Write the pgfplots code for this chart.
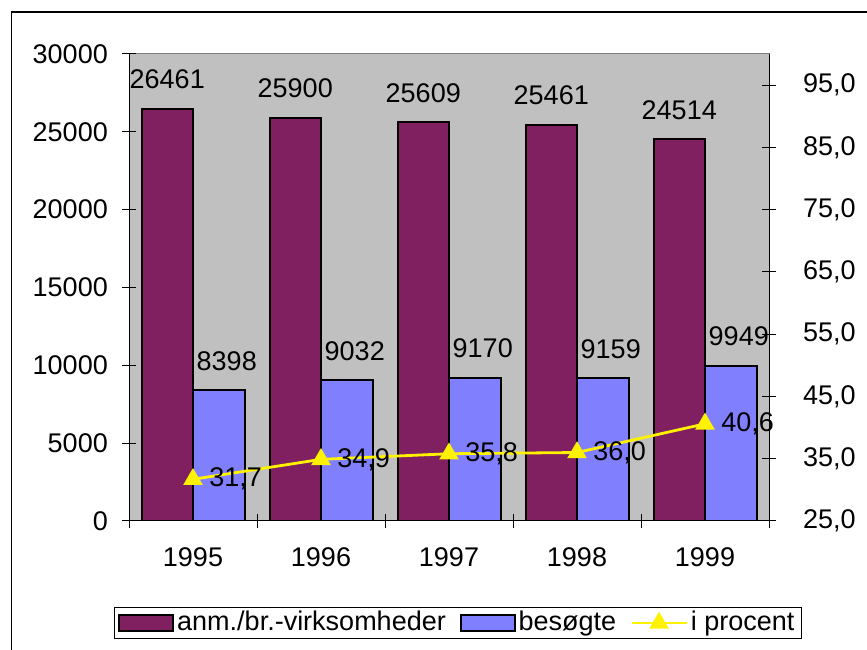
\documentclass[border=0pt]{standalone}
\usepackage{pgfplots}
\pgfplotsset{compat=1.18}
\usepackage{fontspec}
\setmainfont{Liberation Sans}
\definecolor{maroon}{RGB}{128,32,96}
\definecolor{periw}{RGB}{128,128,255}
\definecolor{plotgray}{RGB}{192,192,192}
\definecolor{bordergray}{RGB}{128,128,128}
\pgfplotsset{
  barlegend/.style={legend image code/.code={\draw[##1, line width=1.8pt] (0pt,-8pt) rectangle (54pt,8pt);}},
  linelegend/.style={legend image code/.code={\draw[##1, mark=none] (0pt,0pt) -- (55pt,0pt); \draw[##1, only marks] plot coordinates {(27.5pt,0pt)};}},
}
\begin{document}
\fontsize{27}{32}\selectfont
\begin{tikzpicture}[x=1pt,y=1pt]
\useasboundingbox (0,0) rectangle (867,650);
\draw[line width=1.3pt] (11.5,0) -- (11.5,638) -- (867,638);
\begin{axis}[
  at={(129pt,129pt)}, anchor=south west,
  scale only axis, width=640pt, height=467pt,
  xmin=-0.5, xmax=4.5, ymin=0, ymax=30000,
  ybar=0pt, bar width=51.5pt,
  axis x line*=bottom, axis y line*=left,
  axis line style={line width=1pt, black},
  axis background/.style={fill=plotgray, draw=bordergray, line width=1pt},
  xtick={-0.5,0.5,...,4.5},
  x tick label as interval,
  xticklabels={1995,1996,1997,1998,1999},
  ytick={0,5000,...,30000},
  scaled y ticks=false,
  tick align=center,
  major tick length=14pt,
  tick style={line width=1pt, black},
  /pgf/number format/1000 sep={},
  /pgf/number format/assume math mode=true,
  yticklabel style={xshift=-5pt},
  xticklabel style={yshift=-10pt},
  legend style={at={(0.514,-0.2184)}, anchor=center, draw=black, line width=1pt,
    fill=white, legend columns=3, inner xsep=4pt, inner ysep=2pt,
    /tikz/every even column/.append style={column sep=11pt},
    nodes={inner xsep=3pt, inner ysep=2pt}},
  legend cell align=left,
]
\addplot[fill=maroon, draw=black, line width=2pt, bar shift=-25.75pt,
  nodes near coords,
  every node near coord/.append style={black, inner sep=0pt, yshift=19pt, anchor=south},
  barlegend]
  coordinates {(0,26461) (1,25900) (2,25609) (3,25461) (4,24514)};
\addlegendentry{anm./br.-virksomheder}
\addplot[fill=periw, draw=black, line width=2pt, bar shift=25.75pt,
  nodes near coords,
  every node near coord/.append style={black, inner sep=0pt, yshift=19pt, xshift=8pt, anchor=south},
  barlegend]
  coordinates {(0,8398) (1,9032) (2,9170) (3,9159) (4,9949)};
\addlegendentry{besøgte}
\addlegendimage{yellow, line width=2.8pt, mark=triangle*, mark size=8.5pt,
  mark options={fill=yellow, draw=yellow}, linelegend}
\addlegendentry{i procent}
\end{axis}
\begin{axis}[
  at={(129pt,129pt)}, anchor=south west,
  scale only axis, width=640pt, height=467pt,
  xmin=-0.5, xmax=4.5, ymin=25, ymax=100,
  axis y line*=right, axis x line=none,
  axis line style={line width=1pt, black},
  ytick={25,35,45,55,65,75,85,95},
  tick align=center,
  major tick length=14pt,
  tick style={line width=1pt, black},
  /pgf/number format/.cd, use comma, fixed, fixed zerofill, precision=1, assume math mode=true,
  /pgfplots/.cd,
  yticklabel style={xshift=18pt},
]
\addplot[yellow, line width=2.8pt, mark=triangle*, mark size=8.5pt,
  mark options={fill=yellow, draw=yellow},
  nodes near coords,
  every node near coord/.append style={black, inner sep=0pt, anchor=west, xshift=15pt, yshift=0pt}]
  coordinates {(0,31.7) (1,34.9) (2,35.8) (3,36.0) (4,40.6)};
\end{axis}
\end{tikzpicture}
\end{document}
